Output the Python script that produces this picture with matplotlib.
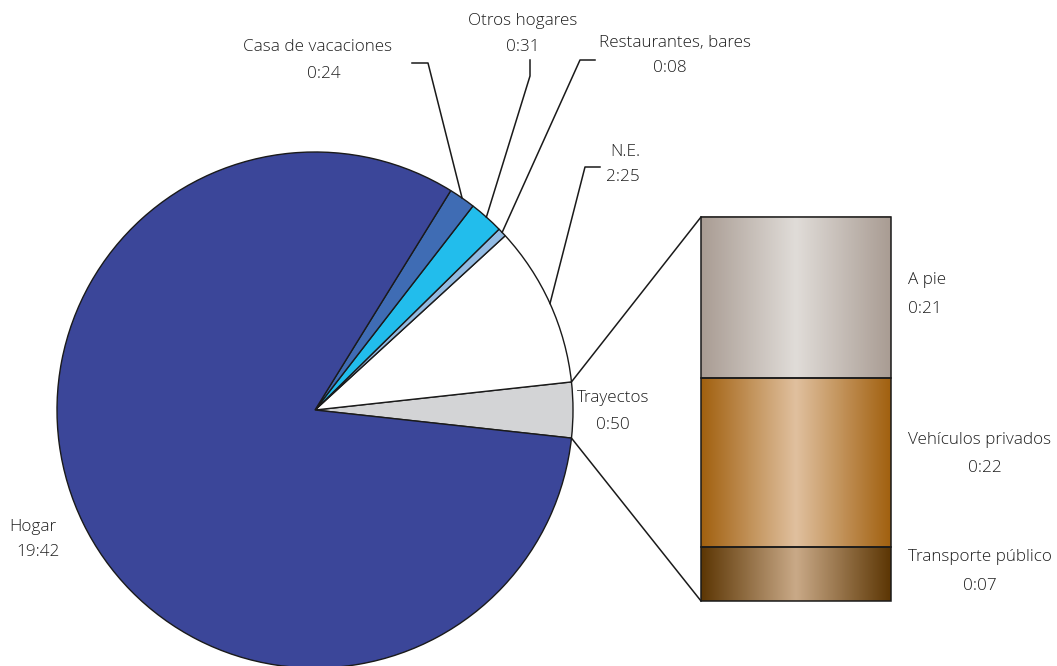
import numpy as np
import matplotlib
matplotlib.use("Agg")
import matplotlib.pyplot as plt
from matplotlib.colors import LinearSegmentedColormap

# ---- data (minutes) ----
pie_labels = ["Trayectos", "N.E.", "Restaurantes, bares", "Otros hogares",
              "Casa de vacaciones", "Hogar"]
pie_times = ["0:50", "2:25", "0:08", "0:31", "0:24", "19:42"]
pie_minutes = [50, 145, 8, 31, 24, 1182]
pie_colors = ["#d3d4d6", "#ffffff", "#93bbe3", "#22bdec", "#3f6cb4", "#3b4699"]

bar_labels = ["A pie", "Vehículos privados", "Transporte público"]
bar_times = ["0:21", "0:22", "0:07"]
bar_minutes = [21, 22, 7]
bar_edge_colors = ["#a99c93", "#a1600f", "#5c3604"]
bar_mid_colors = ["#e0dcd8", "#e0c09e", "#c9a987"]

H = 666
plt.rcParams['font.family'] = ['Open Sans', 'DejaVu Sans']
fig = plt.figure(figsize=(10.57, 6.66), dpi=100)
ax = fig.add_axes([0, 0, 1, 1])
ax.set_xlim(0, 1057)
ax.set_ylim(0, H)
ax.set_aspect('equal')
ax.axis('off')

cx, cy, R = 315, H - 410, 258
total = sum(pie_minutes)
start = -pie_minutes[0] / total * 360 / 2
wedges, _ = ax.pie(pie_minutes, colors=pie_colors, startangle=start,
                   center=(cx, cy), radius=R, counterclock=True,
                   wedgeprops=dict(edgecolor="#1a1a1a", linewidth=1.0))
ax.set_xlim(0, 1057)
ax.set_ylim(0, H)
ax.set_aspect('equal')

tc = "#1f1f1f"
fs = 12.3
lw = 1.1

def edge_pt(i):
    w = wedges[i]
    a = np.deg2rad((w.theta1 + w.theta2) / 2)
    return cx + R * np.cos(a), cy + R * np.sin(a)

def lab(x, y, s, ha='center'):
    ax.text(x, H - y, s, ha=ha, va='center', fontsize=fs, color=tc,
            fontweight='light')

# Casa de vacaciones
px, py = edge_pt(4)
ax.plot([412, 428, px], [H - 63, H - 63, py], color="#1a1a1a", lw=lw)
lab(318, 47, pie_labels[4]); lab(324, 74, pie_times[4])
# Otros hogares
px, py = edge_pt(3)
ax.plot([530, 530, px], [H - 60, H - 76, py], color="#1a1a1a", lw=lw)
lab(523, 21, pie_labels[3]); lab(523, 47, pie_times[3])
# Restaurantes
px, py = edge_pt(2)
ax.plot([595, 580, px], [H - 60, H - 60, py], color="#1a1a1a", lw=lw)
lab(675, 43, pie_labels[2]); lab(670, 68, pie_times[2])
# N.E.
px, py = edge_pt(1)
ax.plot([600, 585, px], [H - 167, H - 167, py], color="#1a1a1a", lw=lw)
lab(625, 152, pie_labels[1]); lab(623, 177, pie_times[1])
# Trayectos
lab(613, 398, pie_labels[0]); lab(613, 425, pie_times[0])
# Hogar
lab(33, 527, pie_labels[5]); lab(38, 552, pie_times[5])

# ---- stacked bar ----
bx0, bx1 = 701, 891
btop, bbot = H - 217, H - 601
bh = btop - bbot
y = btop
tot_b = sum(bar_minutes)
grad = np.linspace(0, 1, 256)
grad = 1 - np.abs(grad - 0.5) * 2
grad = grad[None, :]
for m, ec, mc in zip(bar_minutes, bar_edge_colors, bar_mid_colors):
    h = bh * m / tot_b
    cmap = LinearSegmentedColormap.from_list("g", [ec, mc])
    ax.imshow(grad, cmap=cmap, extent=(bx0, bx1, y - h, y), aspect='auto',
              interpolation='bilinear', zorder=2)
    ax.add_patch(plt.Rectangle((bx0, y - h), bx1 - bx0, h, fill=False,
                               edgecolor="#1a1a1a", lw=1.1, zorder=3))
    y -= h
ax.set_xlim(0, 1057)
ax.set_ylim(0, H)

# connector lines from Trayectos wedge
w = wedges[0]
a1, a2 = np.deg2rad(w.theta1), np.deg2rad(w.theta2)
ax.plot([cx + R * np.cos(a2), bx0], [cy + R * np.sin(a2), btop], color="#1a1a1a", lw=lw)
ax.plot([cx + R * np.cos(a1), bx0], [cy + R * np.sin(a1), bbot], color="#1a1a1a", lw=lw)

# bar labels
lab(908, 280, bar_labels[0], ha='left'); lab(908, 309, bar_times[0], ha='left')
lab(980, 440, bar_labels[1]); lab(985, 468, bar_times[1])
lab(980, 557, bar_labels[2]); lab(980, 586, bar_times[2])

fig.savefig("out.png", dpi=100)
